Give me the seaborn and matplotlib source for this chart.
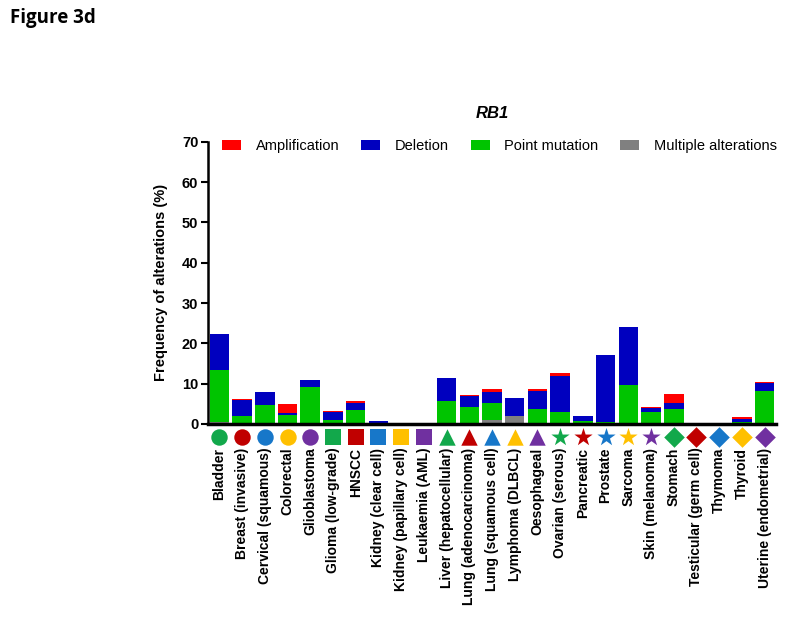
import numpy as np
import pandas as pd
import matplotlib
matplotlib.use('Agg')
import matplotlib.pyplot as plt
import matplotlib.transforms as mtransforms
from matplotlib.patches import Patch
import seaborn as sns

# --- Data (% of samples) ---
cancers = ['Bladder', 'Breast (invasive)', 'Cervical (squamous)', 'Colorectal',
           'Glioblastoma', 'Glioma (low-grade)', 'HNSCC', 'Kidney (clear cell)',
           'Kidney (papillary cell)', 'Leukaemia (AML)', 'Liver (hepatocellular)',
           'Lung (adenocarcinoma)', 'Lung (squamous cell)', 'Lymphoma (DLBCL)',
           'Oesophageal', 'Ovarian (serous)', 'Pancreatic', 'Prostate', 'Sarcoma',
           'Skin (melanoma)', 'Stomach', 'Testicular (germ cell)', 'Thymoma',
           'Thyroid', 'Uterine (endometrial)']
multiple = [0.6, 0.0, 0.3, 0.0, 0.0, 0.0, 0.0, 0.0, 0.0, 0.0, 0.0, 0.0, 1.1,
            2.0, 0.0, 0.0, 0.0, 0.0, 0.3, 0.0, 0.0, 0.0, 0.0, 0.0, 0.0]
point_mut = [12.8, 1.9, 4.3, 2.2, 9.2, 1.0, 3.5, 0.2, 0.0, 0.0, 5.6, 4.3, 4.0,
             0.0, 3.8, 2.9, 0.7, 0.5, 9.3, 3.0, 3.6, 0.0, 0.0, 0.5, 8.3]
deletion = [8.8, 4.05, 3.25, 0.5, 1.8, 2.0, 1.8, 0.5, 0.0, 0.0, 5.8, 2.7, 2.9,
            4.4, 4.5, 9.1, 1.3, 16.5, 14.4, 1.0, 1.5, 0.0, 0.0, 0.8, 1.8]
amplification = [0.0, 0.3, 0.0, 2.3, 0.0, 0.3, 0.3, 0.0, 0.0, 0.0, 0.0, 0.3, 0.6,
                 0.0, 0.4, 0.6, 0.0, 0.0, 0.0, 0.3, 2.3, 0.0, 0.0, 0.4, 0.4]

marker_shapes = ['o', 's', '^', '*', 'D']
marker_colors = ['#12a84b', '#c00000', '#1777c9', '#ffc000', '#7030a0']

series_colors = {'Amplification': '#ff0000', 'Deletion': '#0000bf',
                 'Point mutation': '#00c400', 'Multiple alterations': '#808080'}

# --- Build cumulative layers ---
df = pd.DataFrame({'cancer': cancers, 'multiple': multiple, 'point': point_mut,
                   'deletion': deletion, 'amp': amplification})
df['c_multiple'] = df['multiple']
df['c_point'] = df['c_multiple'] + df['point']
df['c_deletion'] = df['c_point'] + df['deletion']
df['c_amp'] = df['c_deletion'] + df['amp']

plt.rcParams['font.family'] = ['Liberation Sans', 'DejaVu Sans']
fig = plt.figure(figsize=(8, 6.27), dpi=100)
ax = fig.add_axes([0.26, 0.3238, 0.71, 0.4502])

layers = [('c_amp', 'Amplification'), ('c_deletion', 'Deletion'),
          ('c_point', 'Point mutation'), ('c_multiple', 'Multiple alterations')]
for col, name in layers:
    sns.barplot(data=df, x='cancer', y=col, color=series_colors[name],
                width=0.86, saturation=1, ax=ax, edgecolor='none', errorbar=None)

ax.set_xlim(-0.5, len(cancers) - 0.5)
ax.set_ylim(0, 70)
ax.set_yticks(range(0, 71, 10))
ax.set_xlabel('')
ax.set_ylabel('Frequency of alterations (%)', fontsize=10.5, fontweight='bold', labelpad=10)
for s in ['top', 'right']:
    ax.spines[s].set_visible(False)
ax.spines['left'].set_linewidth(1.8)
ax.spines['bottom'].set_linewidth(2.5)
ax.tick_params(axis='y', length=5, width=1.5, labelsize=10.5, pad=2)
for t in ax.get_yticklabels():
    t.set_fontweight('bold')
ax.tick_params(axis='x', length=0, pad=17, labelsize=10, labelrotation=90)
for t in ax.get_xticklabels():
    t.set_fontweight('bold')

# cancer-type markers below the axis
trans = mtransforms.blended_transform_factory(ax.transData, ax.transAxes)
for i in range(len(cancers)):
    shape = marker_shapes[i // 5]
    color = marker_colors[i % 5]
    size = 190 if shape == '*' else (110 if shape == 'D' else 140)
    ax.scatter(i, -0.047, marker=shape, s=size, color=color, transform=trans,
               clip_on=False, linewidths=0, zorder=5)

ax.set_title('RB1', fontsize=12, fontweight='bold', fontstyle='italic', pad=17)

handles = [Patch(facecolor=series_colors[n], edgecolor='none', label=n)
           for n in ['Amplification', 'Deletion', 'Point mutation', 'Multiple alterations']]
ax.legend(handles=handles, ncol=4, loc='center left', bbox_to_anchor=(0.015, 0.985),
          frameon=False, fontsize=10.5, handlelength=1.3, handleheight=0.7,
          columnspacing=1.5, handletextpad=1.0, borderaxespad=0)

fig.text(0.013, 0.972, 'Figure 3d', fontsize=13.5, fontweight='bold',
         family=['Open Sans', 'DejaVu Sans'], va='center', ha='left')

fig.savefig('out.png', dpi=100, facecolor='white')
